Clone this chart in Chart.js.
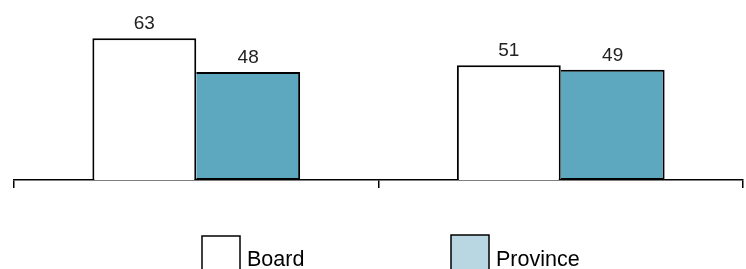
<!DOCTYPE html>
<html>
<head>
<meta charset="utf-8">
<script src="https://cdn.jsdelivr.net/npm/chart.js@4/dist/chart.umd.min.js"></script>
<style>
  html, body { margin: 0; padding: 0; background: #fff; }
  #wrap { width: 746px; height: 269px; position: relative; }
</style>
</head>
<body>
<div id="wrap"><canvas id="chart"></canvas></div>
<script>
// chart values
const categories = ['Group A', 'Group B'];
const boardValues = [63, 51];
const provinceValues = [48, 49];
const seriesNames = ['Board', 'Province'];

const FONT = '"Liberation Sans", Arial, sans-serif';

// value labels above each bar
const valueLabels = {
    id: 'valueLabels',
    afterDatasetsDraw(chart) {
        const ctx = chart.ctx;
        ctx.save();
        ctx.font = '19px ' + FONT;
        ctx.fillStyle = '#222';
        ctx.textAlign = 'center';
        ctx.textBaseline = 'alphabetic';
        chart.data.datasets.forEach((ds, i) => {
            const meta = chart.getDatasetMeta(i);
            meta.data.forEach((bar, j) => {
                ctx.fillText(String(ds.data[j]), bar.x, bar.y - 9);
            });
        });
        ctx.restore();
    }
};

// legend boxes at the bottom, partly cut off like the original
const bottomLegend = {
    id: 'bottomLegend',
    afterDraw(chart) {
        const ctx = chart.ctx;
        const items = [
            { x: 202, top: 236, fill: '#ffffff' },
            { x: 451, top: 235, fill: '#b8d7e2' }
        ];
        ctx.save();
        items.forEach((it, i) => {
            ctx.fillStyle = it.fill;
            ctx.fillRect(it.x, it.top, 38, 40);
            ctx.strokeStyle = '#000';
            ctx.lineWidth = 1.5;
            ctx.strokeRect(it.x, it.top, 38, 40);
            ctx.fillStyle = '#000';
            ctx.font = '21.5px ' + FONT;
            ctx.textBaseline = 'alphabetic';
            ctx.fillText(chart.data.datasets[i].label, it.x + 45, 266);
        });
        ctx.restore();
    }
};

new Chart(document.getElementById('chart'), {
    type: 'bar',
    data: {
        labels: categories,
        datasets: [
            {
                label: seriesNames[0],
                data: boardValues,
                backgroundColor: '#ffffff',
                borderColor: '#000',
                borderWidth: 2,
                borderSkipped: 'bottom',
                barPercentage: 1,
                categoryPercentage: 0.57
            },
            {
                label: seriesNames[1],
                data: provinceValues,
                backgroundColor: '#5ea8bf',
                borderColor: '#000',
                borderWidth: 2,
                borderSkipped: 'left',
                barPercentage: 1,
                categoryPercentage: 0.57
            }
        ]
    },
    options: {
        responsive: true,
        maintainAspectRatio: false,
        animation: false,
        layout: {
            padding: { left: 14, right: 3, top: 0, bottom: 81 }
        },
        plugins: {
            legend: { display: false },
            tooltip: { enabled: false }
        },
        scales: {
            x: {
                grid: {
                    offset: true,
                    drawOnChartArea: false,
                    drawTicks: true,
                    tickLength: 8,
                    color: '#000',
                    lineWidth: 1.5
                },
                border: { color: '#000', width: 1.5 },
                ticks: { display: false }
            },
            y: {
                display: false,
                min: 0,
                max: 80
            }
        }
    },
    plugins: [valueLabels, bottomLegend]
});
</script>
</body>
</html>
